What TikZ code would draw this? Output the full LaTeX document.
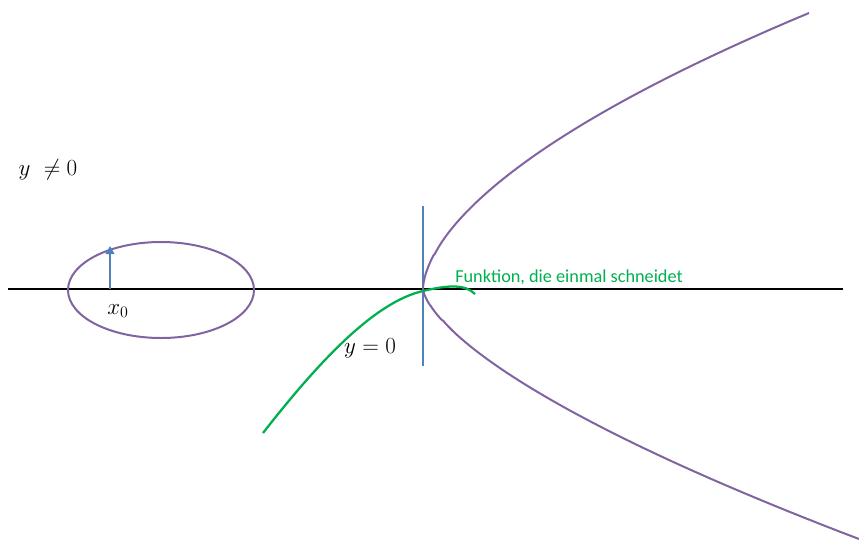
\documentclass[tikz,border=0pt]{standalone}
\usepackage{fontspec}
\newfontfamily\carlito{Carlito}
\usetikzlibrary{arrows.meta}
\definecolor{opurple}{HTML}{8064A2}
\definecolor{oblue}{HTML}{4F81BD}
\definecolor{ogreen}{HTML}{00B050}
\tikzset{
  axisline/.style={draw=black, line width=1.9pt},
  purplecurve/.style={draw=opurple, line width=1.5pt},
  bluestroke/.style={draw=oblue, line width=1.6pt},
  greencurve/.style={draw=ogreen, line width=1.7pt},
  mathlabel/.style={inner sep=0pt, font=\fontsize{17}{20}\selectfont},
  greenlabel/.style={inner sep=0pt, anchor=base west, text=ogreen, font=\carlito\fontsize{13.7}{16}\selectfont}
}
\begin{document}
\begin{tikzpicture}[x=0.75pt, y=-0.75pt]
\useasboundingbox (0,0) rectangle (859,543);
% axis
\coordinate (axL) at (8,289);
\coordinate (axR) at (843,289);
\draw[axisline] (axL) -- (axR);
% ellipse
\coordinate (ellc) at (161,290);
\draw[purplecurve] (ellc) ellipse [x radius=69.75pt, y radius=36pt];
% arrow
\coordinate (x0pt) at (110,289);
\coordinate (x0tip) at (110,246);
\draw[bluestroke, -{Triangle[length=6pt, width=6.5pt]}] (x0pt) -- (x0tip);
\node[mathlabel] (x0) at (118,311) {$x_0$};
% labels
\node[mathlabel] (yneq) at (48,170) {$y\ \neq 0$};
\node[mathlabel] (yeq) at (370,348) {$y=0$};
% vertical line
\coordinate (vt) at (423,206);
\coordinate (vb) at (423,366);
\draw[bluestroke] (vt) -- (vb);
% parabola
\coordinate (vertex) at (423,289);
\draw[purplecurve] plot[domain=276:0.2, samples=150, variable=\t] ({423+386*pow(\t/276,1.71)}, {289-\t}) -- (vertex) -- plot[domain=0.2:250, samples=150, variable=\t] ({423+436*pow(\t/250,1.507)}, {289+\t});
% green curve
\coordinate (gs) at (263,433);
\coordinate (gm) at (423,291);
\coordinate (ge) at (475,294);
\draw[greencurve] (gs) .. controls (320,360) and (375,302) .. (gm) .. controls (448,285) and (465,284) .. (ge);
\node[greenlabel] (fn) at (455,282) {Funktion, die einmal schneidet};
\end{tikzpicture}
\end{document}
